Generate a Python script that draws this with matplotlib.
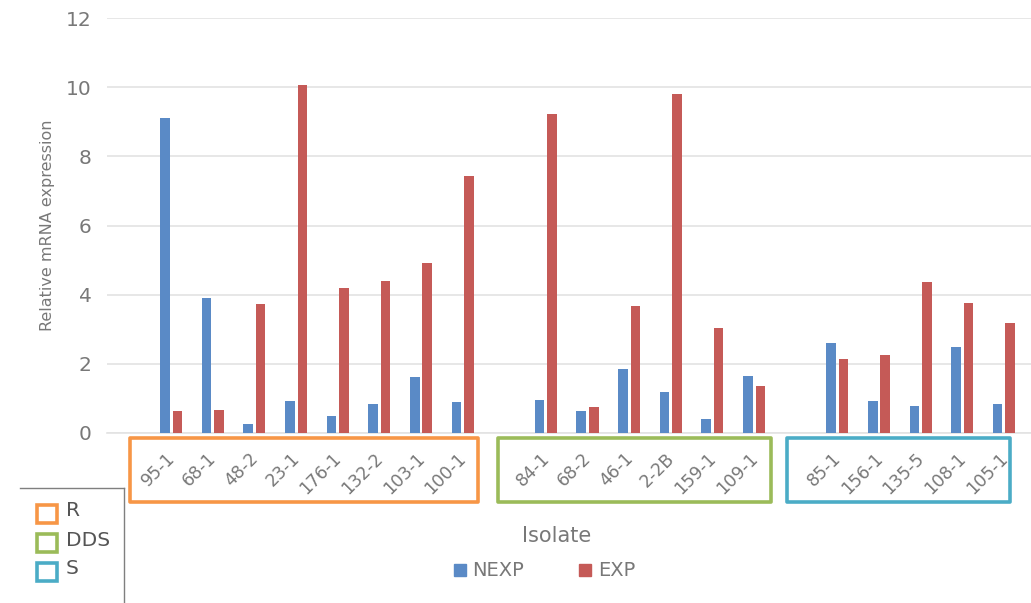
import matplotlib.pyplot as plt
from matplotlib.patches import Rectangle
from matplotlib.lines import Line2D
import matplotlib.transforms as mtransforms
import numpy as np

plt.rcParams['font.family'] = ['DejaVu Sans']

# isolates per resistance group
groups = ["R", "DDS", "S"]
group_colors = ["#F79646", "#9BBB59", "#4BACC6"]
isolates = [
    ["95-1", "68-1", "48-2", "23-1", "176-1", "132-2", "103-1", "100-1"],
    ["84-1", "68-2", "46-1", "2-2B", "159-1", "109-1"],
    ["85-1", "156-1", "135-5", "108-1", "105-1"],
]
nexp = [
    [9.11, 3.90, 0.26, 0.93, 0.49, 0.84, 1.61, 0.90],
    [0.95, 0.64, 1.84, 1.19, 0.41, 1.64],
    [2.59, 0.93, 0.78, 2.48, 0.84],
]
exp = [
    [0.64, 0.67, 3.73, 10.05, 4.19, 4.39, 4.91, 7.42],
    [9.22, 0.75, 3.67, 9.80, 3.04, 1.36],
    [2.13, 2.25, 4.37, 3.76, 3.19],
]

blue = "#5A8AC6"
red = "#C55A57"
text_col = "#787878"

W, H = 1031, 603
fig = plt.figure(figsize=(W / 100, H / 100), dpi=100)
ax = fig.add_axes([107 / W, (H - 433) / H, (W - 107) / W, 415 / H])


def px(x, y):
    return x / W, (H - y) / H


# lay groups out on one axis with an empty slot between them
xpos, labels = [], []
start = 0
for names in isolates:
    xpos.append(list(range(start, start + len(names))))
    labels.extend(names)
    start += len(names) + 1

w = 0.23
off = 0.15
for i in range(len(groups)):
    x = np.array(xpos[i])
    ax.bar(x - off, nexp[i], width=w, color=blue, zorder=3)
    ax.bar(x + off, exp[i], width=w, color=red, zorder=3)

ax.set_xlim(-1.54, 20.65)
ax.set_ylim(0, 12)
ax.set_yticks(range(0, 13, 2))
ax.yaxis.grid(True, color="#E3E3E3", lw=1.2, zorder=0)
for s in ["top", "right", "left"]:
    ax.spines[s].set_visible(False)
ax.spines["bottom"].set_color("#E3E3E3")
ax.spines["bottom"].set_linewidth(1.2)
ax.tick_params(axis="both", length=0, colors=text_col, labelsize=14.5)
ax.tick_params(axis="y", pad=11)
ax.set_xticks([])

# rotated isolate names under the bars
trans = mtransforms.blended_transform_factory(ax.transData, ax.transAxes)
all_x = [x for g in xpos for x in g]
for x, name in zip(all_x, labels):
    ax.text(x + 0.02, -0.055, name, transform=trans, rotation=45,
            rotation_mode="anchor", ha="right", va="center",
            fontsize=12.5, color=text_col)

# outline boxes around each group
box_edges = [(-0.98, 7.37), (7.85, 14.4), (14.79, 20.14)]
for (x0, x1), col in zip(box_edges, group_colors):
    ax.add_patch(Rectangle((x0, -0.166), x1 - x0, 0.154, transform=trans,
                           fill=False, edgecolor=col, lw=2.6, clip_on=False,
                           joinstyle="round"))

fig.text(*px(48, 225), "Relative mRNA expression", rotation=90,
         ha="center", va="center", fontsize=11.5, color=text_col)
fig.text(*px(557, 536), "Isolate", ha="center", va="center",
         fontsize=15, color=text_col)

# series legend
handles = [Line2D([], [], ls="", marker="s", ms=8, color=blue),
           Line2D([], [], ls="", marker="s", ms=8, color=red)]
fig.legend(handles, ["NEXP", "EXP"], loc="center", bbox_to_anchor=px(545, 571),
           ncol=2, frameon=False, fontsize=14, labelcolor=text_col,
           handlelength=0.5, handletextpad=0.4, columnspacing=2.9)

# group key in the lower-left corner
fig.add_artist(Line2D([20 / W, 124 / W], [(H - 488) / H] * 2,
                      transform=fig.transFigure, color="#7F7F7F", lw=1))
fig.add_artist(Line2D([124 / W] * 2, [(H - 488) / H, 0],
                      transform=fig.transFigure, color="#7F7F7F", lw=1))
for k, (g, col) in enumerate(zip(groups, group_colors)):
    y_top = 505 + k * 29
    x0, y0 = px(37, y_top + 18)
    fig.add_artist(Rectangle((x0, y0), 20 / W, 18 / H, transform=fig.transFigure,
                             fill=False, edgecolor=col, lw=2.6))
    fig.text(*px(66, y_top + 6), g, ha="left", va="center",
             fontsize=14.5, color="#555555")

fig.savefig("out.png", dpi=100)
